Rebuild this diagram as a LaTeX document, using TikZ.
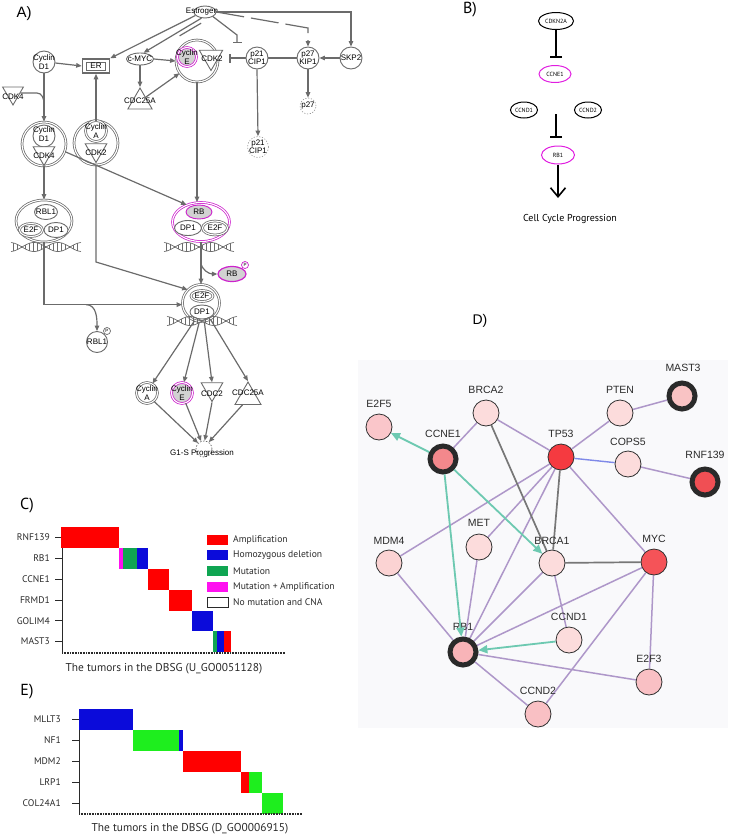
\documentclass[tikz,border=0pt]{standalone}
\usepackage{fontspec}
\setmainfont{Liberation Sans}
\newfontfamily\myr{PT Sans}
\usetikzlibrary{arrows.meta,shapes.geometric,calc}
\definecolor{gc}{HTML}{6B6B6B}
\definecolor{mg}{HTML}{CC22CC}
\definecolor{mgB}{HTML}{E01EE0}
\definecolor{cgry}{HTML}{D2D2D2}
\definecolor{cred}{HTML}{FF0000}
\definecolor{cblue}{HTML}{0B0BDA}
\definecolor{cgrn}{HTML}{0FA552}
\definecolor{egrn}{HTML}{1EEE1E}
\definecolor{cmag}{HTML}{FF10F0}
\definecolor{dbg}{HTML}{F9F9FB}
\definecolor{dpur}{HTML}{AE97C9}
\definecolor{dgray}{HTML}{777777}
\definecolor{dblue}{HTML}{7F89E8}
\definecolor{dteal}{HTML}{6DC9B1}
\definecolor{dring}{HTML}{2A2A2A}
\definecolor{dedge}{HTML}{303030}
\definecolor{fa}{HTML}{FCDCDC}
\definecolor{fb}{HTML}{FAC6CA}
\definecolor{fc}{HTML}{F3888C}
\definecolor{fd}{HTML}{F53A40}
\definecolor{fe}{HTML}{F9C3C4}
\definecolor{ff}{HTML}{F04F54}
\definecolor{fg}{HTML}{F55358}
\definecolor{fh}{HTML}{F8B4B8}
\definecolor{fi}{HTML}{F9C0C4}
\definecolor{fj}{HTML}{FBD3D3}
\definecolor{ctext}{HTML}{2A2A2A}
\pgfdeclarelayer{edges}
\pgfsetlayers{edges,main}
\newcommand{\dnahelix}[2]{%
  \draw[gc, line width=0.7pt] plot[domain=-35:35, samples=60, smooth] ({#1+\x},{#2+4.5*sin(\x*7.5)});
  \draw[gc, line width=0.7pt] plot[domain=-35:35, samples=60, smooth] ({#1+\x},{#2-4.5*sin(\x*7.5)});
  \foreach \q in {-33,-29,...,33} {\draw[gc, line width=0.5pt] ({#1+\q},{#2+4.5*sin(\q*7.5)}) -- ({#1+\q},{#2-4.5*sin(\q*7.5)});}
}
\begin{document}
\begin{tikzpicture}[x=1pt,y=-1pt,
  gl/.style={draw=gc, line width=1.2pt},
  ga/.style={gl, -{Triangle[length=5.5pt,width=4.5pt]}},
  gi/.style={gl, -{Bar[width=9pt,line width=1.2pt]}},
  atxt/.style={font=\fontsize{8}{8.3}\selectfont, align=center, inner sep=0pt, text=black},
  mol/.style={draw=gc, line width=0.9pt, fill=white, inner sep=0pt},
  dmol/.style={draw=gc, double=white, double distance=1.1pt, line width=0.75pt, fill=white, inner sep=0pt},
  trid/.style={mol, regular polygon, regular polygon sides=3, shape border rotate=180},
  triu/.style={mol, regular polygon, regular polygon sides=3},
  pmark/.style={mol, draw=mg, circle, minimum size=7pt, line width=0.7pt, label={[font=\fontsize{4.5}{5}\selectfont, inner sep=0pt]center:P}},
  bmol/.style={ellipse, draw=black, line width=1pt, minimum width=35pt, minimum height=17pt, inner sep=0pt, font=\myr\fontsize{6}{6}\selectfont},
  binh/.style={draw=black, line width=1.8pt, -{Bar[width=12pt,line width=1.8pt]}},
  barr/.style={draw=black, line width=1.6pt, -{Straight Barb[length=9pt,width=15pt,line width=1.6pt]}},
  plab/.style={font=\myr\fontsize{16}{16}\selectfont, inner sep=0pt},
  glab/.style={font=\myr\fontsize{9.6}{10}\selectfont, text=ctext, inner sep=0pt},
  capt/.style={font=\myr\fontsize{11.4}{12}\selectfont, text=ctext, inner sep=0pt},
  axc/.style={draw=ctext, line width=0.8pt},
  rul/.style={draw=ctext, line width=1.1pt, dash pattern=on 0.8pt off 0.8pt},
  dn/.style={circle, draw=dedge, line width=0.8pt, minimum size=26pt, inner sep=0pt},
  dk/.style={circle, draw=dring, line width=5pt, minimum size=26pt, inner sep=0pt, outer sep=2.5pt},
  dlab/.style={font=\fontsize{10.5}{12}\selectfont, text=ctext, inner sep=0pt},
  dp/.style={draw=dpur, line width=1.5pt},
  dg/.style={draw=dgray, line width=1.7pt},
  dbl/.style={draw=dblue, line width=1.4pt},
  dt/.style={draw=dteal, line width=1.8pt, -{Triangle[length=9pt,width=8pt]}}
]
\useasboundingbox (0,0) rectangle (731,836);

%================ Panel A =================
\node[font=\fontsize{15}{15}\selectfont, inner sep=0pt] (labA) at (24,14) {A)};

\node[mol, ellipse, minimum width=22pt, minimum height=12pt] (est) at (205,12) {};
\node[atxt] (estT) at (202,12) {Estrogen};
\node[mol, circle, minimum size=22pt, label={[atxt]center:{Cyclin\\D1}}] (cycd1) at (44,62) {};
\node[draw=gc, fill=white, rectangle, line width=1.6pt, minimum width=27pt, minimum height=14pt, inner sep=0pt] (er) at (96,66) {};
\node[draw=gc, fill=white, rectangle, line width=0.8pt, minimum width=19pt, minimum height=8pt, inner sep=0pt, label={[atxt]center:ER}] (erin) at (96,66) {};
\node[mol, ellipse, minimum width=27pt, minimum height=12pt, label={[atxt]center:c-MYC}] (cmyc) at (140,59) {};
\node[dmol, circle, minimum size=42pt] (cdk2cx) at (197,61) {};
\node[trid, minimum size=27pt] (cdk2a) at (211,57) {};
\node[atxt] (cdk2aT) at (212,59) {CDK2};
\node[dmol, draw=mg, fill=cgry, circle, minimum size=19pt, label={[atxt]center:{Cyclin\\E}}] (cyce) at (187,57) {};
\node[mol, circle, minimum size=22pt, label={[atxt]center:{p21\\CIP1}}] (p21) at (257,58) {};
\node[mol, circle, minimum size=22pt, label={[atxt]center:{p27\\KIP1}}] (p27) at (308,58) {};
\node[mol, circle, minimum size=22pt, label={[atxt]center:SKP2}] (skp2) at (351,58) {};
\node[triu, minimum size=28pt] (cdc25a) at (140,102) {};
\node[atxt] (cdc25aT) at (140,101) {CDC25A};
\node[trid, minimum size=24pt] (cdk4) at (13,93) {};
\node[atxt] (cdk4T) at (13,97) {CDK4};
\node[circle, draw=gc!70, dash pattern=on 1.2pt off 1.6pt, line width=0.6pt, minimum size=21pt, inner sep=0pt, label={[atxt]center:{p21\\CIP1}}] (p21d) at (258,147) {};
\node[circle, draw=gc!70, dash pattern=on 1.2pt off 1.6pt, line width=0.6pt, minimum size=16pt, inner sep=0pt, label={[atxt]center:p27}] (p27d) at (308,106) {};

% complexes
\node[dmol, circle, minimum size=44pt] (cd1cdk4) at (44,144) {};
\node[mol, circle, minimum size=22pt] (cd1in) at (44,136) {};
\node[trid, minimum size=25pt] (cdk4in) at (44,153) {};
\node[atxt] (cd1inT) at (44,134) {Cyclin\\D1};
\node[atxt] (cdk4inT) at (44,156) {CDK4};

\node[dmol, circle, minimum size=44pt] (cacdk2) at (96,143) {};
\node[dmol, circle, minimum size=21pt] (cain) at (96,131) {};
\node[trid, minimum size=25pt] (cdk2in) at (96,150) {};
\node[atxt] (cainT) at (96,131) {Cyclin\\A};
\node[atxt] (cdk2inT) at (96,153) {CDK2};

\node[dmol, ellipse, minimum width=56pt, minimum height=42pt] (rbl1cx) at (44,221) {};
\node[mol, ellipse, minimum width=23pt, minimum height=15pt, label={[atxt]center:RBL1}] (rbl1in) at (46,212) {};
\node[dmol, ellipse, minimum width=23pt, minimum height=13pt, label={[atxt]center:E2F}] (e2fin1) at (31,230) {};
\node[mol, ellipse, minimum width=24pt, minimum height=15pt, label={[atxt]center:DP1}] (dp1in1) at (56,230) {};
\dnahelix{46}{247}

\node[dmol, draw=mg, ellipse, minimum width=57pt, minimum height=39pt] (rbcx) at (201,222) {};
\node[mol, draw=mg, fill=cgry, ellipse, minimum width=26pt, minimum height=14pt, label={[atxt]center:RB}] (rbin) at (199,212) {};
\node[mol, ellipse, minimum width=27pt, minimum height=15pt, label={[atxt]center:DP1}] (dp1in2) at (188,228) {};
\node[dmol, ellipse, minimum width=25pt, minimum height=14pt, label={[atxt]center:E2F}] (e2fin2) at (215,228) {};
\dnahelix{199}{247}

\node[mol, draw=mg, fill=cgry, ellipse, line width=1.2pt, minimum width=28pt, minimum height=15pt, label={[atxt]center:RB}] (rbp) at (232,274) {};
\node[pmark] (rbpP) at (245,265) {};

\node[dmol, circle, minimum size=37pt] (e2fcx) at (201,303) {};
\node[dmol, ellipse, minimum width=22pt, minimum height=11pt, label={[atxt]center:E2F}] (e2fin3) at (202,296) {};
\node[mol, ellipse, minimum width=24pt, minimum height=14pt, label={[atxt]center:DP1}] (dp1in3) at (202,312) {};
\dnahelix{202}{321}

\node[mol, circle, minimum size=21pt, label={[atxt]center:RBL1}] (rbl1p) at (97,342) {};
\node[pmark, draw=gc] (rbl1pP) at (107,331) {};

\node[dmol, circle, minimum size=21pt, label={[atxt]center:{Cyclin\\A}}] (cyca) at (147,393) {};
\node[dmol, draw=mg, fill=cgry, circle, minimum size=21pt, label={[atxt]center:{Cyclin\\E}}] (cyce2) at (182,393) {};
\node[trid, minimum size=25pt] (cdc2) at (212,389) {};
\node[atxt] (cdc2T) at (212,394) {CDC2};
\node[triu, minimum size=30pt] (cdc25b) at (248,397) {};
\node[atxt] (cdc25bT) at (248,393) {CDC25A};
\node[circle, draw=gc, dash pattern=on 1.5pt off 1.5pt, line width=0.7pt, minimum size=16pt, inner sep=0pt] (g1sh) at (204,449) {};
\node[atxt] (g1s) at (202,453) {G1-S Progression};

% connectors A
\coordinate (eiA) at (237,35);
\coordinate (eiB) at (237,43);
\coordinate (e27) at (308,28);
\coordinate (j4a) at (37,93);
\coordinate (j4b) at (44,104);
\coordinate (cab) at (96,262);
\coordinate (rblbr) at (86,304.6);
\coordinate (rbbr) at (201,262);
\draw[ga] (est.200) -- (er.north east);
\draw[ga] (est.240) -- (cmyc.60);
\draw[gl, dash pattern=on 0pt off 11pt on 25pt off 40pt] (est.315) -- (cmyc.30);
\draw[gi] (est.330) -- (eiA) -- (eiB);
\draw[ga, dash pattern=on 28pt off 7pt] (est.east) -- (e27) -- (p27.north);
\draw[ga] (est.east) -| (skp2.north);
\draw[ga] (cycd1.-5) -- (er.west);
\draw[ga] (cmyc.east) -- (cdk2cx.west);
\draw[gi, shorten >=11pt] (p21.west) -- (cdk2cx.east |- p21.west);
\draw[ga] (skp2.west) -- (p27.east);
\draw[gl] (p27.west) -- (p21.east);
\draw[ga] (cmyc.south) -- (cdc25a.corner 1);
\draw[ga] (cdc25a.40) -- (cdk2cx.215);
\draw[ga] (p21.south) -- (p21d.north);
\draw[ga] (p27.south) -- (p27d.north);
\draw[ga] (cycd1.south) -- (cd1cdk4.north);
\draw[gl] (cdk4.east) -- (j4a) to[out=0,in=90] (j4b);
\draw[ga] (cacdk2.north) -- (er.south);
\draw[ga] (cdk2cx.south) -- (cdk2cx.south |- rbcx.north);
\draw[ga] (cd1cdk4.-20) -- (rbcx.130);
\draw[ga] (cd1cdk4.south) -- (rbl1cx.north);
\draw[ga] (cacdk2.south) -- (cab) -- (e2fcx.135);
\draw[ga] (rbl1cx.south) |- (e2fcx.185);
\draw[ga] (rblbr) to[out=0,in=90] (rbl1p.north);
\draw[ga] (rbcx.south) -- (e2fcx.north);
\draw[ga] (rbbr) to[out=-90,in=180] (rbp.west);
\draw[ga] (e2fcx.250) -- (cyca.60);
\draw[ga] (e2fcx.265) -- (cyce2.80);
\draw[ga] (e2fcx.280) -- (cdc2.north);
\draw[ga] (e2fcx.300) -- (cdc25b.corner 1);
\draw[ga] (cyca.-50) -- (g1sh.135);
\draw[ga] (cyce2.-70) -- (g1sh.110);
\draw[ga] (cdc2.corner 1) -- (g1sh.85);
\draw[ga] (cdc25b.235) -- (g1sh.55);

%================ Panel B =================
\node[plab] (labB) at (470,10) {B)};
\node[bmol] (cdkn2a) at (556,21) {CDKN2A};
\node[bmol, draw=mgB, minimum width=32pt] (ccne1b) at (555,74) {CCNE1};
\node[bmol, minimum width=27pt, minimum height=16pt] (ccnd1b) at (524,110) {CCND1};
\node[bmol, minimum width=27pt, minimum height=16pt] (ccnd2b) at (588,110) {CCND2};
\node[bmol, draw=mgB, minimum width=33pt, minimum height=18pt] (rb1b) at (558,155) {RB1};
\node[font=\myr\fontsize{10}{12}\selectfont, inner sep=0pt] (ccp) at (570,219) {Cell Cycle Progression};
\coordinate (bi1) at (556,58);
\coordinate (bi2s) at (556,114);
\coordinate (bi2e) at (556,138);
\coordinate (barE) at (558,198);
\draw[binh] (cdkn2a.south) -- (bi1);
\draw[binh] (bi2s) -- (bi2e);
\draw[barr] (rb1b.south) -- (barE);

%================ Panel C =================
\node[plab] (labC) at (27,506) {C)};
\draw[axc] (62,527) -- (62,653);
\foreach \yy/\nm [count=\i] in {537.5/RNF139, 558.3/RB1, 579.1/CCNE1, 599.9/FRMD1, 620.7/GOLIM4, 641.5/MAST3} {
  \draw[axc] (55,\yy) -- (62,\yy);
  \node[glab, anchor=east] (cg\i) at (50,\yy) {\nm};
}
\fill[cred] (61,527) rectangle (119,548);
\fill[cmag] (119,548) rectangle (123,569);
\fill[cgrn] (123,548) rectangle (137,569);
\fill[cblue] (137,548) rectangle (148,569);
\fill[cred] (148,569) rectangle (169,589.5);
\fill[cred] (169,589.5) rectangle (192,610.5);
\fill[cblue] (192,610.5) rectangle (213,631);
\fill[cgrn] (213,631) rectangle (217,652);
\fill[cblue] (217,631) rectangle (224,652);
\fill[cred] (224,631) rectangle (231,652);
\draw[rul] (62,653) -- (285,653);
\fill[cred] (207,535) rectangle (228,545);
\fill[cblue] (207,550) rectangle (228,560);
\fill[cgrn] (207,566) rectangle (228,576);
\fill[cmag] (207,582) rectangle (228,592);
\draw[ctext, line width=0.6pt] (207,597) rectangle (228,607);
\node[glab, anchor=west] (lg1) at (233,540) {Amplification};
\node[glab, anchor=west] (lg2) at (233,555) {Homozygous deletion};
\node[glab, anchor=west] (lg3) at (233,571) {Mutation};
\node[glab, anchor=west] (lg4) at (233,587) {Mutation + Amplification};
\node[glab, anchor=west] (lg5) at (233,602) {No mutation and CNA};
\node[capt] (captC) at (164,669) {The tumors in the DBSG (U\_GO0051128)};

%================ Panel E =================
\node[plab] (labE) at (27,692) {E)};
\draw[axc] (79,709) -- (79,814);
\foreach \yy/\nm [count=\i] in {719.5/MLLT3, 740.5/NF1, 761.5/MDM2, 782.5/LRP1, 803/COL24A1} {
  \draw[axc] (72,\yy) -- (79,\yy);
  \node[glab, anchor=east] (eg\i) at (61,\yy) {\nm};
}
\fill[cblue] (79,709) rectangle (133,730);
\fill[egrn] (133,730) rectangle (179,751);
\fill[cblue] (179,730) rectangle (183,751);
\fill[cred] (183,751) rectangle (241,772);
\fill[cred] (241,772) rectangle (249,793);
\fill[egrn] (249,772) rectangle (262,793);
\fill[egrn] (262,793) rectangle (283,813.5);
\draw[rul] (79,814) -- (302,814);
\node[capt] (captE) at (190,829) {The tumors in the DBSG (D\_GO0006915)};

%================ Panel D =================
\node[font=\fontsize{14}{14}\selectfont, inner sep=0pt] (labD) at (480,321) {D)};
\node[dn, fill=fb] (e2f5) at (379,427) {};
\node[dk, fill=fc] (ccne1) at (443,459) {};
\node[dn, fill=fa] (brca2) at (486,413) {};
\node[dn, fill=fd] (tp53) at (561,457) {};
\node[dn, fill=fa] (pten) at (620,413) {};
\node[dk, fill=fe] (mast3) at (682,396) {};
\node[dn, fill=fa] (cops5) at (628,464) {};
\node[dk, fill=ff] (rnf139) at (705,482) {};
\node[dn, fill=fa] (met) at (479,547) {};
\node[dn, fill=fj] (mdm4) at (389,563) {};
\node[dn, fill=fa] (brca1) at (552,563) {};
\node[dn, fill=fg] (myc) at (654,562) {};
\node[dn, fill=fa] (ccnd1) at (569,640) {};
\node[dk, fill=fh] (rb1) at (463,652) {};
\node[dn, fill=fi] (e2f3) at (649,682) {};
\node[dn, fill=fi] (ccnd2) at (538,714) {};

\node[dlab] (le2f5) at (379,404) {E2F5};
\node[dlab] (lccne1) at (443,434) {CCNE1};
\node[dlab] (lbrca2) at (486,390) {BRCA2};
\node[dlab] (ltp53) at (561,434) {TP53};
\node[dlab] (lpten) at (620,390) {PTEN};
\node[dlab] (lmast3) at (683,368) {MAST3};
\node[dlab] (lcops5) at (628,442) {COPS5};
\node[dlab] (lrnf139) at (705,455) {RNF139};
\node[dlab] (lmet) at (479,523) {MET};
\node[dlab] (lmdm4) at (389,541) {MDM4};
\node[dlab] (lbrca1) at (552,541) {BRCA1};
\node[dlab] (lmyc) at (654,539) {MYC};
\node[dlab] (lccnd1) at (569,617) {CCND1};
\node[dlab] (lrb1) at (463,627) {RB1};
\node[dlab] (le2f3) at (649,659) {E2F3};
\node[dlab] (lccnd2) at (538,691) {CCND2};

\begin{pgfonlayer}{edges}
\fill[dbg] (358,360) rectangle (728,728);
\draw[dp] (ccne1) -- (brca2);
\draw[dp] (brca2) -- (tp53);
\draw[dp] (tp53) -- (pten);
\draw[dp] (pten) -- (mast3);
\draw[dp] (cops5) -- (rnf139);
\draw[dp] (tp53) -- (mdm4);
\draw[dp] (tp53) -- (met);
\draw[dp] (tp53) -- (rb1);
\draw[dp] (tp53) -- (myc);
\draw[dp] (met) -- (rb1);
\draw[dp] (mdm4) -- (rb1);
\draw[dp] (brca1) -- (rb1);
\draw[dp] (brca1) -- (ccnd1);
\draw[dp] (myc) -- (rb1);
\draw[dp] (myc) -- (ccnd2);
\draw[dp] (myc) -- (e2f3);
\draw[dp] (rb1) -- (e2f3);
\draw[dp] (rb1) -- (ccnd2);
\draw[dg] (brca2) -- (brca1);
\draw[dg] (tp53) -- (brca1);
\draw[dg] (brca1) -- (myc);
\draw[dbl] (tp53) -- (cops5);
\end{pgfonlayer}
\draw[dt] (ccne1) -- (e2f5);
\draw[dt] (ccne1) -- (brca1);
\draw[dt] (ccne1) -- (rb1);
\draw[dt] (ccnd1) -- (rb1);
\end{tikzpicture}
\end{document}
